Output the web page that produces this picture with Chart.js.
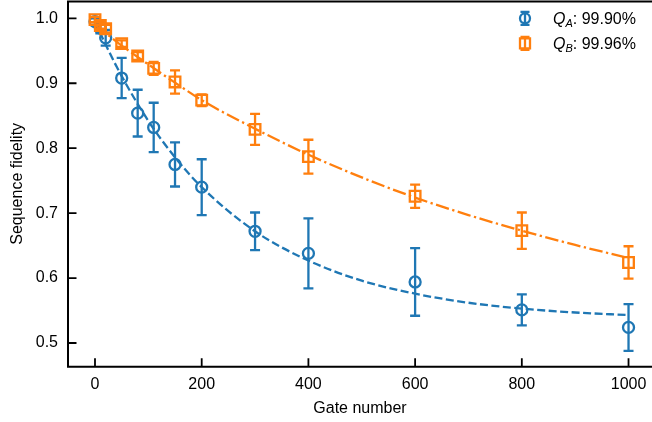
<!DOCTYPE html>
<html>
<head>
<meta charset="utf-8">
<script src="https://cdn.jsdelivr.net/npm/chart.js@4.4.1/dist/chart.umd.min.js"></script>
<style>
  html, body { margin: 0; padding: 0; background: #fff; }
  #wrap { width: 652px; height: 422px; }
</style>
</head>
<body>
<div id="wrap"><canvas id="chart" width="652" height="422"></canvas></div>
<script>
// measured points (gate number, fidelity, error)
const gates = [0, 10, 20, 50, 80, 110, 150, 200, 300, 400, 600, 800, 1000];
const fidA = [0.995, 0.985, 0.970, 0.908, 0.854, 0.832, 0.775, 0.740, 0.672, 0.638, 0.594, 0.551, 0.524];
const errA = [0.005, 0.008, 0.012, 0.031, 0.036, 0.038, 0.034, 0.043, 0.029, 0.054, 0.052, 0.024, 0.036];
const fidB = [0.998, 0.989, 0.984, 0.961, 0.942, 0.923, 0.902, 0.874, 0.829, 0.787, 0.726, 0.673, 0.624];
const errB = [0.004, 0.005, 0.006, 0.005, 0.006, 0.010, 0.018, 0.009, 0.024, 0.026, 0.018, 0.028, 0.025];

// fitted decay curves
const fitX = [0, 25, 50, 100, 150, 200, 300, 400, 500, 600, 700, 800, 900, 1000];
const fitA = [0.995, 0.951, 0.911, 0.842, 0.786, 0.740, 0.672, 0.627, 0.596, 0.576, 0.562, 0.553, 0.547, 0.543];
const fitB = [0.990, 0.974, 0.958, 0.929, 0.901, 0.874, 0.830, 0.790, 0.755, 0.724, 0.697, 0.673, 0.651, 0.631];

const xTicks = [0, 200, 400, 600, 800, 1000];
const yTicks = [0.5, 0.6, 0.7, 0.8, 0.9, 1.0];
const legendSubs = ['A', 'B'];
const legendValues = ['99.90%', '99.96%'];

const BLUE = '#1f77b4';
const ORANGE = '#ff7f0e';
const FONT = 'Liberation Sans';
const FS = 16;
const LW = 2.3;

const toPts = (xs, ys) => xs.map((x, i) => ({ x: x, y: ys[i] }));

// error bars are drawn just before the markers of each measured dataset
const errorBars = {
    id: 'errorBars',
    beforeDatasetDraw(chart, args) {
        const ds = chart.data.datasets[args.index];
        if (!ds.errors) return;
        const { ctx, scales: { x, y } } = chart;
        ctx.save();
        ctx.strokeStyle = ds.borderColor;
        ctx.lineWidth = LW;
        ds.data.forEach((p, i) => {
            const px = x.getPixelForValue(p.x);
            const top = y.getPixelForValue(p.y + ds.errors[i]);
            const bot = y.getPixelForValue(p.y - ds.errors[i]);
            ctx.beginPath();
            ctx.moveTo(px, top); ctx.lineTo(px, bot);
            ctx.moveTo(px - 5, top); ctx.lineTo(px + 5, top);
            ctx.moveTo(px - 5, bot); ctx.lineTo(px + 5, bot);
            ctx.stroke();
        });
        ctx.restore();
    }
};

// spines, inward ticks and the legend
const frame = {
    id: 'frame',
    afterDraw(chart) {
        const { ctx, chartArea: a, scales: { x, y } } = chart;
        ctx.save();
        ctx.strokeStyle = '#000';
        ctx.lineWidth = 2;
        ctx.beginPath();
        ctx.moveTo(a.left, a.top); ctx.lineTo(a.left, a.bottom);
        ctx.moveTo(a.left - 1, a.bottom); ctx.lineTo(a.right, a.bottom);
        ctx.moveTo(a.left - 1, a.top + 0.5); ctx.lineTo(a.right, a.top + 0.5);
        ctx.stroke();
        ctx.lineWidth = 1.8;
        ctx.beginPath();
        xTicks.forEach(v => {
            const px = x.getPixelForValue(v);
            ctx.moveTo(px, a.bottom); ctx.lineTo(px, a.bottom - 8.5);
        });
        yTicks.forEach(v => {
            const py = y.getPixelForValue(v);
            ctx.moveTo(a.left, py); ctx.lineTo(a.left + 8.5, py);
        });
        ctx.stroke();

        // legend
        const sets = chart.data.datasets.filter(d => d.errors);
        sets.forEach((ds, i) => {
            const mx = 525, my = 18.3 + i * 25;
            ctx.strokeStyle = ds.borderColor;
            ctx.lineWidth = LW;
            ctx.beginPath();
            ctx.moveTo(mx, my - 6.5); ctx.lineTo(mx, my + 6.5);
            ctx.moveTo(mx - 4.5, my - 6.5); ctx.lineTo(mx + 4.5, my - 6.5);
            ctx.moveTo(mx - 4.5, my + 6.5); ctx.lineTo(mx + 4.5, my + 6.5);
            ctx.stroke();
            ctx.beginPath();
            if (ds.pointStyle === 'rect') {
                ctx.rect(mx - 5, my - 5, 10, 10);
            } else {
                ctx.arc(mx, my, 5, 0, Math.PI * 2);
            }
            ctx.stroke();

            ctx.fillStyle = '#000';
            ctx.textBaseline = 'alphabetic';
            ctx.textAlign = 'left';
            const base = my + 5.5;
            let tx = 553;
            ctx.font = 'italic ' + FS + 'px "' + FONT + '"';
            ctx.fillText('Q', tx, base);
            tx += ctx.measureText('Q').width;
            ctx.font = 'italic ' + Math.round(FS * 0.7) + 'px "' + FONT + '"';
            ctx.fillText(legendSubs[i], tx, base + 3);
            tx += ctx.measureText(legendSubs[i]).width;
            ctx.font = FS + 'px "' + FONT + '"';
            ctx.fillText(': ' + legendValues[i], tx, base);
        });
        ctx.restore();
    }
};

new Chart(document.getElementById('chart'), {
    type: 'scatter',
    data: {
        datasets: [
            {
                data: toPts(gates, fidA), errors: errA,
                borderColor: BLUE, backgroundColor: 'rgba(0,0,0,0)',
                pointStyle: 'circle', pointRadius: 5.5, pointBorderWidth: LW,
                showLine: false, clip: false, order: 2
            },
            {
                data: toPts(fitX, fitA),
                borderColor: BLUE, borderWidth: LW, borderDash: [8, 3.5],
                pointRadius: 0, showLine: true, cubicInterpolationMode: 'monotone',
                clip: false, order: 3
            },
            {
                data: toPts(gates, fidB), errors: errB,
                borderColor: ORANGE, backgroundColor: 'rgba(0,0,0,0)',
                pointStyle: 'rect', pointRadius: 7.5, pointBorderWidth: LW,
                showLine: false, clip: false, order: 0
            },
            {
                data: toPts(fitX, fitB),
                borderColor: ORANGE, borderWidth: LW, borderDash: [13.5, 3.5, 2.3, 3.5],
                pointRadius: 0, showLine: true, cubicInterpolationMode: 'monotone',
                clip: false, order: 1
            }
        ]
    },
    options: {
        responsive: false,
        animation: false,
        devicePixelRatio: 1,
        layout: { autoPadding: false, padding: { top: 1, right: 0, left: 0, bottom: 0 } },
        plugins: { legend: { display: false }, tooltip: { enabled: false } },
        scales: {
            x: {
                type: 'linear', min: -50.6, max: 1044,
                afterBuildTicks: s => { s.ticks = xTicks.map(v => ({ value: v })); },
                afterFit: s => { s.height = 55.3; s.paddingLeft = 0; s.paddingRight = 0; },
                grid: { display: false, drawTicks: false },
                border: { display: false },
                ticks: { color: '#000', padding: 8, maxRotation: 0, font: { family: FONT, size: FS }, callback: v => String(v) },
                title: { display: true, text: 'Gate number', color: '#000', font: { family: FONT, size: FS }, padding: { top: 0, bottom: 4 } }
            },
            y: {
                type: 'linear', min: 0.4635, max: 1.0267,
                afterBuildTicks: s => { s.ticks = yTicks.map(v => ({ value: v })); },
                afterFit: s => { s.width = 68; s.paddingTop = 0; s.paddingBottom = 0; },
                grid: { display: false, drawTicks: false },
                border: { display: false },
                ticks: { color: '#000', padding: 10, font: { family: FONT, size: FS }, callback: v => v.toFixed(1) },
                title: { display: true, text: 'Sequence fidelity', color: '#000', font: { family: FONT, size: FS }, padding: { top: 8, bottom: 0 } }
            }
        }
    },
    plugins: [errorBars, frame]
});
</script>
</body>
</html>
